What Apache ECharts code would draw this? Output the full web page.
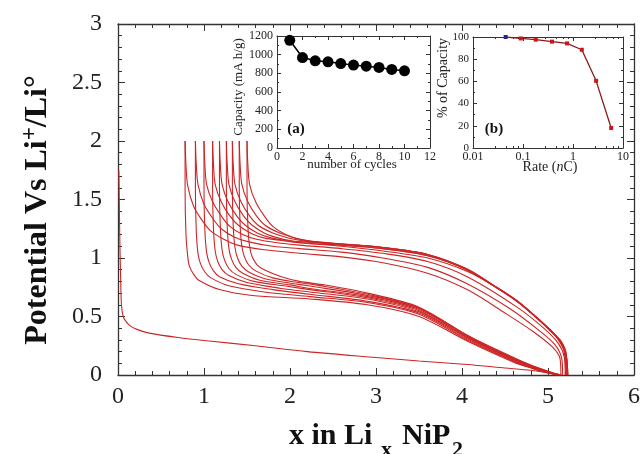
<!DOCTYPE html>
<html><head><meta charset="utf-8">
<script src="https://cdn.jsdelivr.net/npm/echarts@6/dist/echarts.min.js"></script>
<style>html,body{margin:0;padding:0;background:#fff}#c{width:644px;height:454px}</style>
</head><body><div id="c"></div>
<script>
// ---------- main plot: potential profiles (x in LixNiP2, V) ----------
const firstDischarge = [[0.01,1.75],[0.015,1.5],[0.02,1.2],[0.03,0.85],[0.04,0.6],[0.06,0.5],[0.09,0.46],[0.14,0.42],[0.22,0.39],[0.35,0.36],[0.7,0.32],[1.06,0.29],[1.6,0.25],[2.2,0.2],[3.0,0.15],[3.5,0.12],[4.06,0.09],[4.5,0.06],[4.8,0.04],[5.02,0.015],[5.1,0]];

const charge1 = [[5.15,0],[5.14,0.14],[5.05,0.24],[4.83,0.37],[4.5,0.53],[4.06,0.73],[3.6,0.87],[3.08,0.96],[2.6,1.01],[2.11,1.04],[1.7,1.07],[1.39,1.11],[1.23,1.16],[1.08,1.23],[0.98,1.32],[0.88,1.44],[0.81,1.62],[0.79,1.8],[0.78,2.0]];
const charge2 = [[5.17,0],[5.16,0.14],[5.08,0.26],[4.88,0.39],[4.55,0.57],[4.06,0.78],[3.6,0.92],[3.08,1.0],[2.6,1.05],[2.11,1.08],[1.8,1.1],[1.51,1.14],[1.35,1.18],[1.2,1.25],[1.1,1.34],[1.0,1.46],[0.93,1.63],[0.91,1.8],[0.9,2.0]];
const charge3 = [[5.2,0],[5.19,0.15],[5.12,0.27],[4.95,0.4],[4.64,0.58],[4.06,0.84],[3.6,0.97],[3.08,1.04],[2.6,1.08],[2.11,1.11],[1.85,1.13],[1.61,1.16],[1.45,1.2],[1.3,1.27],[1.2,1.36],[1.1,1.48],[1.03,1.63],[1.01,1.8],[1.0,2.0]];
const charge4 = [[5.23,0],[5.22,0.13],[5.19,0.22],[5.13,0.3],[5.05,0.36],[4.88,0.48],[4.62,0.64],[4.33,0.78],[4.05,0.89],[3.6,1.0],[3.08,1.06],[2.6,1.1],[2.11,1.13],[1.9,1.15],[1.71,1.17],[1.55,1.21],[1.4,1.28],[1.3,1.36],[1.2,1.48],[1.13,1.63],[1.11,1.8],[1.1,2.0]];
const charge5 = [[5.23,0],[5.22,0.13],[5.2,0.22],[5.14,0.3],[5.06,0.36],[4.9,0.47],[4.64,0.63],[4.35,0.77],[4.06,0.9],[3.6,1.02],[3.08,1.08],[2.6,1.11],[2.11,1.13],[1.95,1.15],[1.79,1.17],[1.63,1.21],[1.48,1.28],[1.38,1.36],[1.28,1.48],[1.21,1.63],[1.19,1.8],[1.18,2.0]];
const charge6 = [[5.23,0],[5.22,0.12],[5.2,0.21],[5.15,0.29],[5.07,0.35],[4.91,0.46],[4.66,0.62],[4.37,0.76],[4.08,0.89],[3.6,1.03],[3.08,1.09],[2.6,1.12],[2.11,1.14],[2.0,1.15],[1.87,1.17],[1.71,1.21],[1.56,1.28],[1.46,1.36],[1.36,1.48],[1.29,1.63],[1.27,1.8],[1.26,2.0]];
const charge7 = [[5.22,0],[5.21,0.13],[5.19,0.22],[5.13,0.3],[5.05,0.37],[4.89,0.48],[4.63,0.64],[4.34,0.78],[4.05,0.91],[3.6,1.03],[3.08,1.09],[2.6,1.12],[2.2,1.14],[2.05,1.16],[1.94,1.18],[1.78,1.22],[1.63,1.28],[1.53,1.36],[1.43,1.48],[1.36,1.63],[1.34,1.8],[1.33,2.0]];
const charge8 = [[5.22,0],[5.21,0.12],[5.19,0.21],[5.14,0.29],[5.06,0.36],[4.9,0.47],[4.65,0.63],[4.36,0.77],[4.07,0.9],[3.6,1.02],[3.08,1.08],[2.6,1.11],[2.25,1.14],[2.12,1.16],[2.02,1.18],[1.86,1.22],[1.71,1.28],[1.61,1.36],[1.51,1.48],[1.44,1.63],[1.42,1.8],[1.41,2.0]];
const charge9 = [[5.21,0],[5.2,0.13],[5.18,0.22],[5.12,0.3],[5.04,0.37],[4.88,0.48],[4.62,0.64],[4.33,0.78],[4.04,0.91],[3.6,1.03],[3.08,1.09],[2.6,1.12],[2.3,1.14],[2.11,1.16],[1.95,1.2],[1.8,1.27],[1.7,1.36],[1.6,1.48],[1.53,1.63],[1.51,1.8],[1.5,2.0]];

const discharge2 = [[0.78,2.0],[0.78,1.6],[0.79,1.21],[0.81,1.02],[0.83,0.93],[0.88,0.86],[0.94,0.81],[1.18,0.73],[1.56,0.68],[2.23,0.65],[2.9,0.6],[3.5,0.5],[4.06,0.29],[4.6,0.11],[4.85,0.05],[5.02,0.015],[5.1,0]];
const discharge3 = [[0.9,2.0],[0.9,1.6],[0.91,1.23],[0.93,1.04],[0.96,0.95],[1.01,0.88],[1.08,0.83],[1.3,0.76],[1.7,0.71],[2.23,0.67],[2.9,0.62],[3.5,0.52],[4.06,0.3],[4.6,0.12],[4.85,0.05],[5.03,0.015],[5.11,0]];
const discharge4 = [[1.0,2.0],[1.0,1.6],[1.01,1.24],[1.03,1.05],[1.06,0.96],[1.11,0.89],[1.18,0.84],[1.4,0.78],[1.8,0.73],[2.23,0.69],[2.9,0.63],[3.5,0.53],[4.06,0.31],[4.6,0.12],[4.85,0.05],[5.04,0.015],[5.12,0]];
const discharge5 = [[1.1,2.0],[1.1,1.6],[1.11,1.25],[1.13,1.06],[1.16,0.97],[1.21,0.9],[1.29,0.85],[1.5,0.79],[1.9,0.74],[2.23,0.71],[2.9,0.65],[3.5,0.54],[4.06,0.32],[4.6,0.13],[4.85,0.06],[5.05,0.015],[5.13,0]];
const discharge6 = [[1.18,2.0],[1.18,1.6],[1.19,1.26],[1.21,1.07],[1.24,0.98],[1.29,0.91],[1.37,0.86],[1.58,0.8],[1.95,0.76],[2.23,0.73],[2.9,0.66],[3.5,0.55],[4.06,0.32],[4.6,0.13],[4.85,0.06],[5.05,0.015],[5.14,0]];
const discharge7 = [[1.26,2.0],[1.26,1.6],[1.27,1.27],[1.29,1.08],[1.32,0.99],[1.37,0.92],[1.45,0.87],[1.65,0.81],[2.0,0.77],[2.23,0.74],[2.9,0.67],[3.5,0.56],[4.06,0.33],[4.6,0.14],[4.85,0.06],[5.06,0.015],[5.14,0]];
const discharge8 = [[1.33,2.0],[1.33,1.6],[1.34,1.27],[1.36,1.09],[1.39,1.0],[1.44,0.93],[1.52,0.88],[1.72,0.82],[2.05,0.78],[2.23,0.76],[2.9,0.68],[3.5,0.57],[4.06,0.33],[4.6,0.14],[4.85,0.06],[5.06,0.015],[5.15,0]];
const discharge9 = [[1.41,2.0],[1.41,1.6],[1.42,1.28],[1.44,1.1],[1.47,1.01],[1.52,0.94],[1.6,0.89],[1.8,0.83],[2.1,0.79],[2.3,0.77],[2.9,0.69],[3.5,0.57],[4.06,0.34],[4.6,0.14],[4.85,0.07],[5.07,0.015],[5.15,0]];
const discharge10 = [[1.5,2.0],[1.5,1.6],[1.51,1.28],[1.53,1.1],[1.56,1.01],[1.62,0.94],[1.7,0.9],[1.9,0.84],[2.11,0.8],[2.4,0.77],[2.9,0.7],[3.5,0.58],[4.06,0.34],[4.6,0.15],[4.85,0.07],[5.07,0.015],[5.16,0]];

// ---------- inset (a): capacity vs cycle ----------
const cycleNumbers = [1,2,3,4,5,6,7,8,9,10];
const capacityValues = [1154,969,934,923,905,888,877,863,842,827];

// ---------- inset (b): % capacity vs rate ----------
const rateValues = [0.045,0.09,0.18,0.38,0.76,1.5,2.9,5.8];
const percentCapacity = [100,98.7,97.6,95.8,94.2,88.5,60.5,18];

// ---------- tick settings ----------
const mainXTicks = {min:0, max:6, interval:1};
const mainYTicks = {min:0, max:3, interval:0.5};
const insetAXTicks = {min:0, max:12, interval:2};
const insetAYTicks = {min:0, max:1200, interval:200};
const insetBXTicks = {min:0.01, max:10};
const insetBYTicks = {min:0, max:100, interval:20};

const SERIF = '"Liberation Serif","Times New Roman",serif';
const AXC = '#333';

function axis(o) {
  const showLabel = o.label !== false;
  const lab = {show: showLabel, fontFamily: SERIF, fontSize: o.fs, color: '#222', margin: o.margin,
      hideOverlap: false, showMinLabel: true, showMaxLabel: true};
  if (o.type !== 'log') lab.formatter = v => String(v);
  return {
    gridIndex: o.grid, type: o.type || 'value', position: o.pos,
    min: o.t.min, max: o.t.max, interval: o.t.interval, logBase: 10,
    axisLine: {show: true, onZero: false, lineStyle: {color: AXC, width: o.lw || 1}},
    axisTick: {show: true, inside: true, length: o.tl, lineStyle: {color: AXC, width: 1}},
    minorTick: {show: true, splitNumber: o.minor, length: o.mtl, lineStyle: {color: AXC, width: 1}},
    axisLabel: lab,
    splitLine: {show: false}, minorSplitLine: {show: false}
  };
}

const xAxes = [
  axis({grid:0, pos:'bottom', t:mainXTicks, tl:7, mtl:4, minor:5, fs:24, margin:10, lw:1.3}),
  axis({grid:0, pos:'top', t:mainXTicks, tl:7, mtl:4, minor:5, label:false, lw:1.3}),
  axis({grid:1, pos:'bottom', t:insetAXTicks, tl:4, mtl:2, minor:2, fs:12, margin:3}),
  axis({grid:1, pos:'top', t:insetAXTicks, tl:4, mtl:2, minor:2, label:false}),
  axis({grid:2, pos:'bottom', type:'log', t:insetBXTicks, tl:4, mtl:2, minor:5, fs:12, margin:3}),
  axis({grid:2, pos:'top', type:'log', t:insetBXTicks, tl:4, mtl:2, minor:5, label:false})
];
const yAxes = [
  axis({grid:0, pos:'left', t:mainYTicks, tl:7, mtl:4, minor:5, fs:24, margin:16, lw:1.3}),
  axis({grid:0, pos:'right', t:mainYTicks, tl:7, mtl:4, minor:5, label:false, lw:1.3}),
  axis({grid:1, pos:'left', t:insetAYTicks, tl:4, mtl:2, minor:2, fs:12, margin:4}),
  axis({grid:1, pos:'right', t:insetAYTicks, tl:4, mtl:2, minor:2, label:false}),
  axis({grid:2, pos:'left', t:insetBYTicks, tl:4, mtl:2, minor:2, fs:11, margin:4}),
  axis({grid:2, pos:'right', t:insetBYTicks, tl:4, mtl:2, minor:2, label:false})
];

const mainCurves = [firstDischarge,
  charge1, charge2, charge3, charge4, charge5, charge6, charge7, charge8, charge9,
  discharge2, discharge3, discharge4, discharge5, discharge6, discharge7, discharge8, discharge9, discharge10];

const series = mainCurves.map(d => ({
  type: 'line', xAxisIndex: 0, yAxisIndex: 0, data: d, showSymbol: false, symbol: 'none',
  smooth: 0.3, lineStyle: {color: '#cc2525', width: 1.1}, z: 2, silent: true
}));

series.push({
  type: 'line', xAxisIndex: 2, yAxisIndex: 2,
  data: cycleNumbers.map((c, i) => [c, capacityValues[i]]),
  symbol: 'circle', symbolSize: 11, showSymbol: true,
  itemStyle: {color: '#000'}, lineStyle: {color: '#000', width: 1.5}
});
series.push({
  type: 'line', xAxisIndex: 4, yAxisIndex: 4,
  data: rateValues.map((r, i) => i === 0
    ? {value: [r, percentCapacity[i]], itemStyle: {color: '#1c2a8c'}}
    : [r, percentCapacity[i]]),
  symbol: 'rect', symbolSize: 4, showSymbol: true,
  itemStyle: {color: '#d01515'}, lineStyle: {color: '#8a1a1a', width: 1.3}
});

function bold(size) { return 'bold ' + size + 'px ' + SERIF; }

const option = {
  animation: false,
  backgroundColor: '#fff',
  grid: [
    {left: 118, top: 24, width: 516, height: 351, containLabel: false, outerBoundsMode: 'none'},
    {left: 277, top: 36, width: 153, height: 112, containLabel: false, outerBoundsMode: 'none'},
    {left: 473, top: 37, width: 150, height: 111, containLabel: false, outerBoundsMode: 'none'}
  ],
  xAxis: xAxes,
  yAxis: yAxes,
  series: series,
  graphic: [
    {type: 'text', x: 289, y: 436, silent: true, style: {text: 'x in Li', font: bold(30), align: 'left', verticalAlign: 'middle', fill: '#111'}},
    {type: 'text', x: 381, y: 450, silent: true, style: {text: 'x', font: bold(22), align: 'left', verticalAlign: 'middle', fill: '#111'}},
    {type: 'text', x: 402, y: 436, silent: true, style: {text: 'NiP', font: bold(30), align: 'left', verticalAlign: 'middle', fill: '#111'}},
    {type: 'text', x: 452, y: 450, silent: true, style: {text: '2', font: bold(22), align: 'left', verticalAlign: 'middle', fill: '#111'}},
    {type: 'text', x: 38, y: 210, rotation: Math.PI / 2, silent: true, style: {
      text: '{m|Potential Vs Li}{p|+}{m|/Li°}', align: 'center', verticalAlign: 'middle', fill: '#111',
      rich: {
        m: {fontFamily: SERIF, fontSize: 32, fontWeight: 'bold', lineHeight: 38, fill: '#111'},
        p: {fontFamily: SERIF, fontSize: 23, fontWeight: 'bold', lineHeight: 16, verticalAlign: 'top', fill: '#111'}
      }}},
    {type: 'text', x: 352, y: 165, silent: true, style: {text: 'number of cycles', font: '13px ' + SERIF, align: 'center', verticalAlign: 'middle', fill: '#222'}},
    {type: 'text', x: 239, y: 87, rotation: Math.PI / 2, silent: true, style: {text: 'Capacity (mA h/g)', font: '13px ' + SERIF, align: 'center', verticalAlign: 'middle', fill: '#222'}},
    {type: 'text', x: 550, y: 167, silent: true, style: {text: '{r|Rate (}{i|n}{r|C)}', align: 'center', verticalAlign: 'middle',
      rich: {r: {fontFamily: SERIF, fontSize: 14, fill: '#222'}, i: {fontFamily: SERIF, fontSize: 14, fontStyle: 'italic', fill: '#222'}}}},
    {type: 'text', x: 443, y: 78, rotation: Math.PI / 2, silent: true, style: {text: '% of Capacity', font: '14px ' + SERIF, align: 'center', verticalAlign: 'middle', fill: '#222'}},
    {type: 'text', x: 296, y: 129, silent: true, style: {text: '(a)', font: bold(15), align: 'center', verticalAlign: 'middle', fill: '#111'}},
    {type: 'text', x: 494, y: 129, silent: true, style: {text: '(b)', font: bold(15), align: 'center', verticalAlign: 'middle', fill: '#111'}}
  ]
};

const chart = echarts.init(document.getElementById('c'), null, {renderer: 'canvas'});
chart.setOption(option);
</script>
</body></html>
